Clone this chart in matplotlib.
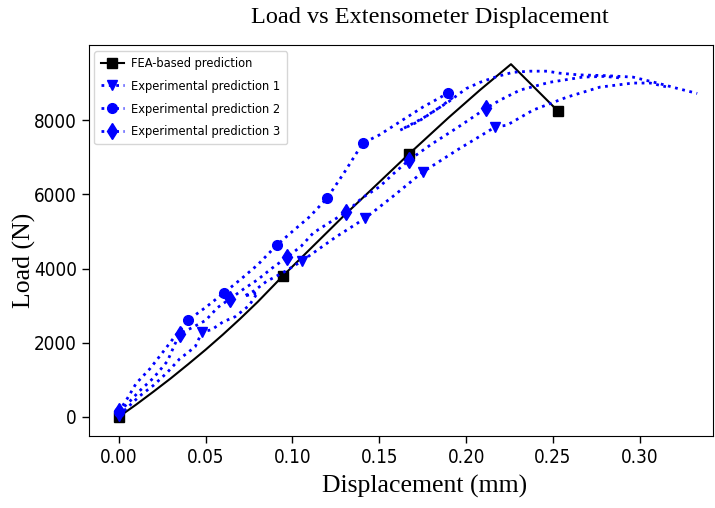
import matplotlib
matplotlib.use("Agg")
import matplotlib.pyplot as plt
from matplotlib import font_manager as fm

# ---------------- data ----------------
fea_x = [0.0, 0.01, 0.02, 0.03, 0.04, 0.05, 0.06, 0.07, 0.08, 0.0945, 0.13, 0.167, 0.19, 0.208, 0.2258, 0.2529]
fea_y = [0, 330, 680, 1040, 1420, 1810, 2220, 2650, 3100, 3800, 5440, 7084, 8073, 8814, 9508, 8242]
fea_marks = [0, 9, 11, 15]

exp1_x = [0.0, 0.005, 0.012, 0.02, 0.028, 0.035, 0.044, 0.048, 0.0535, 0.06, 0.067, 0.075, 0.08,
          0.072, 0.078, 0.085, 0.095, 0.1054, 0.112, 0.125, 0.142, 0.158, 0.175, 0.195, 0.2166,
          0.2235, 0.2385, 0.258, 0.277, 0.296, 0.306, 0.315]
exp1_y = [30, 250, 560, 850, 1200, 1560, 1890, 2290, 2350, 2560, 2700, 3000, 3350,
          3250, 3400, 3650, 3900, 4200, 4420, 4850, 5360, 5950, 6600, 7200, 7812,
          7865, 8270, 8620, 8890, 9000, 9000, 8900]
exp1_marks = [0, 7, 17, 20, 22, 24]

exp2_x = [0.0, 0.005, 0.01, 0.018, 0.025, 0.032, 0.04, 0.05, 0.0605, 0.07, 0.08, 0.091, 0.10, 0.11,
          0.12, 0.13, 0.1405, 0.15, 0.16, 0.175, 0.1895, 0.192, 0.185, 0.172, 0.162, 0.175, 0.19,
          0.2, 0.208, 0.218, 0.227, 0.237, 0.2465, 0.254, 0.265, 0.28, 0.296, 0.31, 0.322, 0.333]
exp2_y = [135, 500, 900, 1300, 1720, 2150, 2610, 2950, 3340, 3700, 4100, 4630, 5000, 5400,
          5900, 6600, 7380, 7600, 7900, 8350, 8727, 8600, 8350, 7950, 7730, 8050, 8500,
          8850, 9020, 9180, 9290, 9320, 9320, 9265, 9220, 9200, 9160, 9000, 8850, 8720]
exp2_marks = [0, 6, 8, 11, 14, 16, 20]

exp3_x = [0.0, 0.005, 0.012, 0.02, 0.028, 0.035, 0.042, 0.05, 0.057, 0.064, 0.072, 0.08, 0.088,
          0.097, 0.105, 0.112, 0.12, 0.131, 0.14, 0.15, 0.158, 0.167, 0.18, 0.195, 0.2115,
          0.2195, 0.231, 0.248, 0.267, 0.28, 0.29]
exp3_y = [150, 350, 700, 1050, 1500, 2240, 2400, 2600, 2950, 3180, 3450, 3700, 4000,
          4310, 4600, 4960, 5200, 5520, 5900, 6200, 6550, 6920, 7350, 7800, 8320,
          8540, 8810, 9020, 9160, 9180, 9130]
exp3_marks = [0, 5, 9, 13, 17, 21, 24]

x_ticks = [0.00, 0.05, 0.10, 0.15, 0.20, 0.25, 0.30]
y_ticks = [0, 2000, 4000, 6000, 8000]

# ---------------- fonts ----------------
def condensed_path():
    for f in fm.fontManager.ttflist:
        if f.fname.endswith("DejaVuSansCondensed.ttf"):
            return f.fname
    return None

_cp = condensed_path()
def sans(size):
    if _cp:
        return fm.FontProperties(fname=_cp, size=size)
    return fm.FontProperties(family="DejaVu Sans", size=size)

serif = ["Liberation Serif", "DejaVu Serif"]

# ---------------- figure ----------------
fig = plt.figure(figsize=(7.15, 5.08), dpi=100)
ax = fig.add_axes([0.124, 0.142, 0.873, 0.769])

ax.plot(fea_x, fea_y, color="black", linestyle="-", linewidth=1.5, marker="s",
        markersize=7, markevery=fea_marks, label="FEA-based prediction")
ax.plot(exp1_x, exp1_y, color="blue", linestyle=":", linewidth=2, marker="v",
        markersize=7, markevery=exp1_marks, label="Experimental prediction 1")
ax.plot(exp2_x, exp2_y, color="blue", linestyle=":", linewidth=2, marker="o",
        markersize=7, markevery=exp2_marks, label="Experimental prediction 2")
ax.plot(exp3_x, exp3_y, color="blue", linestyle=":", linewidth=2, marker="d",
        markersize=8, markevery=exp3_marks, label="Experimental prediction 3")

ax.set_xlim(-0.0173, 0.342)
ax.set_ylim(-512, 10020)
ax.set_xticks(x_ticks)
ax.set_yticks(y_ticks)
ax.set_xticklabels([f"{t:.2f}" for t in x_ticks])
ax.set_yticklabels([str(t) for t in y_ticks])
for lab in ax.get_xticklabels() + ax.get_yticklabels():
    lab.set_fontproperties(sans(13.5))
ax.tick_params(direction="out", length=5, width=1)

ax.set_xlabel("Displacement (mm)", family=serif, fontsize=18.5)
ax.xaxis.set_label_coords(0.538, -0.1)
ax.set_ylabel("Load (N)", family=serif, fontsize=18.5)
ax.yaxis.set_label_coords(-0.085, 0.45)

fig.text(0.601, 0.965, "Load vs Extensometer Displacement", family=serif,
         fontsize=17.5, ha="center", va="center")

ax.legend(loc="upper left", prop=sans(9.2), handlelength=1.8, labelspacing=0.75,
          borderaxespad=0.45, handletextpad=0.6, borderpad=0.5)

fig.savefig("out.png", dpi=100)
